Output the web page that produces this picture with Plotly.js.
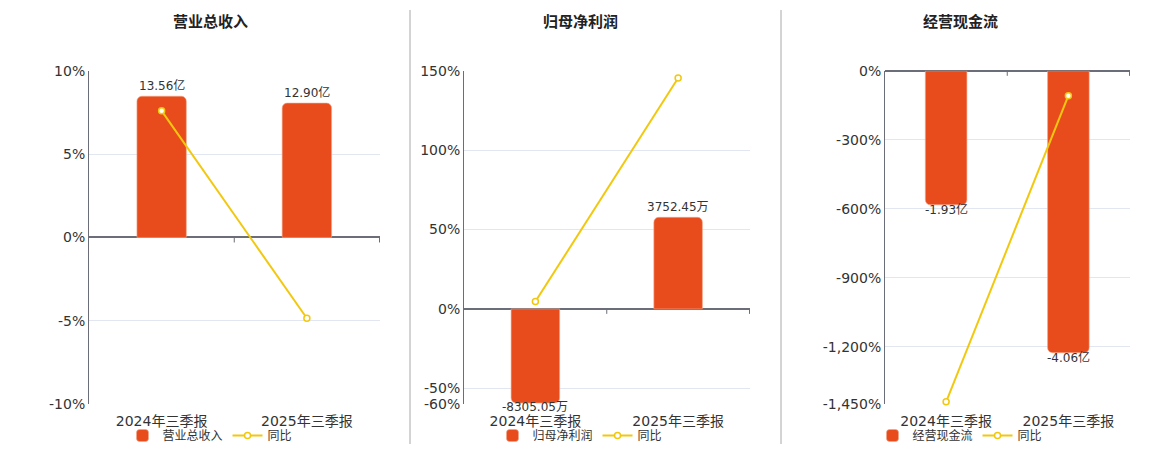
<!DOCTYPE html>
<html>
<head>
<meta charset="utf-8">
<script src="https://cdn.plot.ly/plotly-3.0.1.min.js"></script>
<style>
  html, body { margin: 0; padding: 0; background: #fff; }
  #chart { width: 1160px; height: 450px; }
</style>
</head>
<body>
<div id="chart"></div>
<script>
// ---- data ----
const categories = ["2024年三季报", "2025年三季报"];
const panelTitles = ["营业总收入", "归母净利润", "经营现金流"];
const yoyName = "同比";

const revenueVals = [13.56, 12.90];      // 亿
const revenueYoy = [7.6, -4.85];         // %
const profitVals = [-8305.05, 3752.45];  // 万
const profitYoy = [4.6, 145.5];          // %
const cashVals = [-1.93, -4.06];         // 亿
const cashYoy = [-1440, -108];           // %

const revTicks = [-10, -5, 0, 5, 10];
const profitTicks = [-60, -50, 0, 50, 100, 150];
const cashTicks = [-1450, -1200, -900, -600, -300, 0];

// ---- style ----
const FONT = "DejaVu Sans, 'Noto Sans CJK SC', sans-serif";
const BAR = "#e84c1c";
const LINE = "#f2c80f";
const GRID = "#e2e6f0";
const AXIS = "#6b6e78";
const W = 1160, H = 450;

const px = v => v / W;
const py = v => 1 - v / H;
const yDom = [py(405), py(71)];

// plain hyphen + thousands comma, like the original labels
const pctLabel = v => v.toLocaleString("en-US") + "%";

function pctAxis(anchorX, over, ticks, range) {
  return {
    overlaying: over, side: "left", anchor: anchorX, range: range,
    tickmode: "array", tickvals: ticks, ticktext: ticks.map(pctLabel),
    showgrid: true, gridcolor: GRID, gridwidth: 1,
    zeroline: true, zerolinecolor: AXIS, zerolinewidth: 2,
    showline: true, linecolor: AXIS, linewidth: 1,
    ticks: "", tickfont: { size: 14, color: "#333" }, fixedrange: true
  };
}
function barAxis(anchorX, range, over) {
  const a = { domain: yDom, anchor: anchorX, range: range, visible: false,
    showgrid: false, zeroline: false, fixedrange: true };
  if (over) { a.overlaying = over; delete a.domain; }
  return a;
}
function xAxis(dom, yAnchor) {
  return {
    domain: dom, anchor: yAnchor, type: "category", showline: false,
    showgrid: false, zeroline: false, ticks: "", ticklabelstandoff: 7,
    tickfont: { size: 14, color: "#333" }, fixedrange: true
  };
}
function barTrace(vals, xa, ya, name, legend, show) {
  return {
    type: "bar", x: categories, y: vals, xaxis: xa, yaxis: ya,
    name: name, legend: legend, showlegend: show, legendgroup: legend + "bar",
    marker: { color: BAR, cornerradius: 5, line: { color: "#f3a486", width: 0.6 } },
    hoverinfo: "skip"
  };
}
function yoyTrace(vals, xa, ya, legend) {
  return {
    type: "scatter", mode: "lines+markers", x: categories, y: vals,
    xaxis: xa, yaxis: ya, name: yoyName, legend: legend, cliponaxis: false,
    line: { color: LINE, width: 2 },
    marker: { symbol: "circle", size: 6, color: "#fff", line: { color: LINE, width: 1.5 } },
    hoverinfo: "skip"
  };
}

const traces = [
  barTrace(revenueVals, "x", "y", panelTitles[0], "legend", true),
  yoyTrace(revenueYoy, "x", "y2", "legend"),
  barTrace([profitVals[0], null], "x2", "y3", panelTitles[1], "legend2", true),
  barTrace([null, profitVals[1]], "x2", "y4", panelTitles[1], "legend2", false),
  yoyTrace(profitYoy, "x2", "y5", "legend2"),
  barTrace(cashVals, "x3", "y6", panelTitles[2], "legend3", true),
  yoyTrace(cashYoy, "x3", "y7", "legend3")
];

// value labels at the end of each bar
function barLabel(v, i, unit, xa, ya) {
  return {
    text: v.toFixed(2) + unit, xref: xa, yref: ya, x: categories[i], y: v,
    xanchor: "center", yanchor: v < 0 ? "top" : "bottom", yshift: v < 0 ? 4 : 2,
    borderpad: 0, showarrow: false, font: { size: 12, color: "#333" }
  };
}
const valueLabels = [
  ...revenueVals.map((v, i) => barLabel(v, i, "亿", "x", "y")),
  ...profitVals.map((v, i) => barLabel(v, i, "万", "x2", i === 0 ? "y3" : "y4")),
  ...cashVals.map((v, i) => barLabel(v, i, "亿", "x3", "y6"))
];

const centers = [210, 580, 960];
function legendAt(cx) {
  return {
    orientation: "h", x: px(cx), xanchor: "center", y: py(436), yanchor: "middle",
    font: { size: 12, color: "#333", family: FONT }, itemwidth: 30, tracegroupgap: 0,
    bgcolor: "rgba(0,0,0,0)"
  };
}

// small ticks under the category axis line at zero
const tickShapes = [];
[["x", "y2"], ["x2", "y5"], ["x3", "y7"]].forEach(([xa, ya]) => {
  [0.5, 1.5].forEach(c => tickShapes.push({
    type: "line", xref: xa, yref: ya, x0: c, x1: c,
    ysizemode: "pixel", yanchor: 0, y0: 0, y1: -5,
    line: { color: AXIS, width: 1 }
  }));
});

const layout = {
  width: W, height: H,
  margin: { l: 0, r: 0, t: 0, b: 0 },
  paper_bgcolor: "#fff", plot_bgcolor: "rgba(0,0,0,0)",
  font: { family: FONT, color: "#333" },
  bargap: 0.66, barcornerradius: 5,
  xaxis: xAxis([px(89), px(380)], "y"),
  yaxis: barAxis("x", [-16, 16]),
  yaxis2: pctAxis("x", "y", revTicks, [-10, 10]),
  xaxis2: xAxis([px(464), px(750)], "y3"),
  yaxis3: barAxis("x2", [-8403, 21007]),
  yaxis4: barAxis("x2", [-3902, 9755], "y3"),
  yaxis5: pctAxis("x2", "y3", profitTicks, [-60, 150]),
  xaxis3: xAxis([px(885), px(1130)], "y6"),
  yaxis6: barAxis("x3", [-4.8, 0]),
  yaxis7: pctAxis("x3", "y6", cashTicks, [-1450, 0]),
  legend: legendAt(centers[0]),
  legend2: legendAt(centers[1]),
  legend3: legendAt(centers[2]),
  annotations: panelTitles.map((t, i) => ({
    text: "<b>" + t + "</b>", xref: "paper", yref: "paper",
    x: px(centers[i]), y: py(22), xanchor: "center", yanchor: "middle",
    showarrow: false, font: { size: 15, color: "#222" }
  })).concat(valueLabels),
  shapes: [
    { type: "line", xref: "paper", yref: "paper", x0: px(410), x1: px(410), y0: py(445), y1: py(10),
      line: { color: "#a8a8a8", width: 1 } },
    { type: "line", xref: "paper", yref: "paper", x0: px(781), x1: px(781), y0: py(445), y1: py(10),
      line: { color: "#a8a8a8", width: 1 } }
  ].concat(tickShapes),
  hovermode: false
};

Plotly.newPlot("chart", traces, layout, { displayModeBar: false, staticPlot: true });
</script>
</body>
</html>
